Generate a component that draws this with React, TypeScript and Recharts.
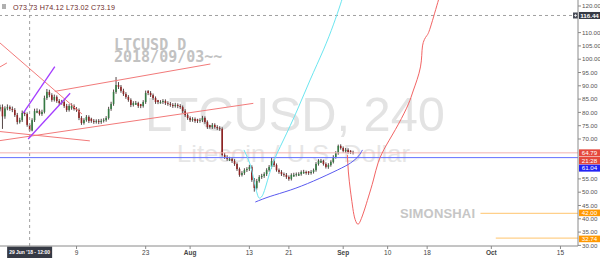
import { ComposedChart, Bar, Line, XAxis, YAxis, ReferenceLine } from "recharts";

// LTCUSD 240 — time axis in days from 1 Aug 2018, candles sampled every 12h
const START = -38.5;
const STEP = 0.5;

const opens = [
  81.2, 82.0, 78.5, 81.5, 82.0, 81.3, 80.9, 79.0, 76.4, 77.1,
  79.8, 79.4, 75.3, 73.2, 77.1, 79.9, 80.5, 79.4, 80.2, 85.4,
  87.7, 86.5, 84.7, 85.8, 84.3, 83.5, 83.9, 82.4, 80.9, 81.6,
  82.4, 81.3, 80.9, 77.9, 76.0, 77.1, 78.3, 77.6, 76.8, 76.4,
  76.8, 76.4, 76.8, 77.1, 77.9, 81.3, 83.2, 87.7, 90.3, 89.6,
  88.1, 86.9, 85.8, 84.7, 82.8, 82.9, 83.5, 83.1, 82.4, 83.9,
  88.0, 87.3, 86.5, 85.4, 84.6, 83.4, 83.9, 84.3, 83.5, 83.2,
  82.8, 82.4, 82.8, 82.4, 82.0, 80.5, 79.0, 77.9, 77.1, 77.5,
  77.4, 76.8, 77.1, 77.9, 76.4, 75.2, 74.5, 75.3, 74.5, 74.1,
  73.8, 64.0, 63.2, 61.9, 62.5, 61.7, 60.6, 58.7, 56.5, 57.2,
  58.3, 58.7, 59.5, 54.6, 51.6, 54.2, 55.7, 56.1, 56.8, 58.3,
  59.5, 61.7, 60.2, 58.3, 57.6, 56.8, 56.5, 55.7, 55.0, 55.9,
  56.5, 56.2, 56.8, 57.1, 57.6, 57.8, 57.2, 57.6, 58.3, 60.6,
  61.1, 61.7, 60.6, 59.5, 60.2, 61.4, 63.2, 64.7, 67.4, 66.6,
  65.5, 65.9, 65.6, 65.1,
];
const highs = [
  82.9, 83.0, 82.3, 83.0, 82.6, 82.2, 81.6, 79.8, 78.0, 80.7,
  80.5, 80.0, 75.9, 77.8, 81.4, 81.5, 81.1, 81.0, 86.3, 88.8,
  88.5, 87.2, 86.7, 86.4, 85.0, 84.7, 84.6, 83.2, 83.1, 83.4,
  83.0, 82.0, 81.5, 78.6, 77.8, 79.0, 78.9, 78.0, 77.5, 77.4,
  77.5, 77.6, 77.8, 78.6, 82.1, 84.0, 88.6, 93.3, 91.4, 90.3,
  88.9, 87.6, 86.5, 85.3, 84.2, 84.3, 84.0, 83.2, 84.6, 88.2,
  88.4, 88.0, 87.1, 86.0, 84.7, 84.6, 85.0, 84.9, 84.2, 83.9,
  83.5, 83.6, 83.4, 83.1, 82.6, 81.2, 79.7, 78.5, 78.2, 78.1,
  77.6, 77.8, 78.7, 78.5, 77.0, 75.3, 76.0, 75.9, 75.2, 74.8,
  74.4, 64.8, 63.9, 63.3, 63.1, 62.4, 61.2, 59.3, 57.9, 59.0,
  59.4, 60.3, 60.1, 55.3, 55.0, 56.4, 56.9, 57.5, 59.0, 60.2,
  63.0, 62.3, 60.8, 58.9, 58.3, 57.4, 57.2, 56.3, 57.1, 57.3,
  57.4, 57.5, 58.2, 58.4, 58.1, 57.9, 58.3, 58.9, 61.3, 62.4,
  62.5, 62.2, 61.2, 60.9, 62.0, 63.9, 65.4, 67.9, 68.0, 67.2,
  66.6, 66.5, 65.8, 65.6,
];
const lows = [
  80.4, 73.8, 77.6, 80.8, 80.6, 80.1, 78.3, 75.5, 75.8, 76.4,
  78.6, 74.6, 72.8, 72.9, 76.4, 79.7, 78.8, 78.7, 79.6, 84.7,
  85.7, 84.0, 84.1, 83.6, 82.8, 82.9, 81.7, 80.2, 80.3, 81.0,
  80.7, 80.2, 77.1, 75.3, 75.4, 76.5, 76.0, 76.1, 75.7, 75.8,
  75.6, 75.7, 76.2, 76.5, 77.3, 80.6, 82.5, 87.0, 88.8, 87.4,
  86.2, 85.1, 84.0, 82.0, 82.2, 82.8, 81.7, 81.6, 81.8, 83.2,
  86.5, 85.8, 84.7, 83.2, 83.1, 83.3, 83.2, 82.8, 82.5, 82.1,
  81.7, 81.8, 81.6, 81.3, 79.8, 78.3, 77.2, 76.4, 76.5, 76.1,
  76.0, 76.1, 76.4, 75.7, 73.8, 73.9, 73.8, 73.9, 73.4, 73.1,
  63.4, 62.5, 61.8, 61.7, 61.0, 59.9, 58.0, 55.8, 55.9, 56.5,
  57.6, 58.0, 53.9, 50.2, 51.0, 53.6, 55.0, 55.4, 56.1, 57.7,
  58.9, 59.5, 57.7, 56.9, 56.1, 55.8, 55.0, 54.3, 54.4, 55.8,
  55.9, 56.1, 56.2, 56.9, 56.6, 56.5, 56.6, 57.0, 57.7, 60.0,
  61.0, 60.0, 58.9, 58.8, 59.6, 60.8, 62.6, 64.1, 66.0, 64.9,
  64.8, 64.5, 64.4, 64.2,
];
const closes = [
  82.0, 78.5, 81.5, 82.0, 81.3, 80.9, 79.0, 76.4, 77.1, 79.8,
  79.4, 75.3, 73.2, 77.1, 80.5, 80.5, 79.4, 80.2, 85.4, 87.7,
  86.5, 84.7, 85.8, 84.3, 83.5, 83.9, 82.4, 80.9, 82.4, 82.4,
  81.3, 80.9, 77.9, 76.0, 77.1, 78.3, 76.8, 76.8, 76.4, 76.8,
  76.4, 76.8, 77.1, 77.9, 81.3, 83.2, 87.7, 90.3, 89.6, 88.1,
  86.9, 85.8, 84.7, 82.8, 83.5, 83.5, 82.4, 82.4, 83.9, 87.3,
  87.3, 86.5, 85.4, 83.9, 83.9, 83.9, 84.3, 83.5, 83.2, 82.8,
  82.4, 82.8, 82.4, 82.0, 80.5, 79.0, 77.9, 77.1, 77.5, 76.8,
  76.8, 77.1, 77.9, 76.4, 74.5, 74.5, 75.3, 74.5, 74.1, 73.8,
  64.0, 63.2, 62.5, 62.5, 61.7, 60.6, 58.7, 56.5, 57.2, 58.3,
  58.7, 59.5, 54.6, 51.6, 54.2, 55.7, 56.1, 56.8, 58.3, 59.5,
  61.7, 60.2, 58.3, 57.6, 56.8, 56.5, 55.7, 55.0, 56.5, 56.5,
  56.8, 56.8, 57.6, 57.6, 57.2, 57.2, 57.6, 58.3, 60.6, 61.7,
  61.7, 60.6, 59.5, 60.2, 61.4, 63.2, 64.7, 67.4, 66.6, 65.5,
  65.9, 65.1, 65.1, 64.8,
];

const xTicks = [-23, -9, 0, 12, 20, 31, 40, 48, 61, 75];
const xTickLabels = ["9", "23", "Aug", "13", "21", "Sep", "10", "18", "Oct", "15"];
// 115, 65 and 60 sit under the price tags
const yTicks = [30, 35, 40, 45, 50, 55, 70, 75, 80, 85, 90, 95, 100, 105, 110, 120];

// drawings: [day, price]
const redTrends = [
  [[-38.5, 106.1], [-21.9, 79.4]],
  [[-38.5, 97.1], [-37.1, 98.6]],
  [[-27.4, 87.9], [4.1, 98.2]],
  [[-38.5, 69.4], [12.8, 83.4]],
  [[-38.5, 72.8], [-20.3, 69.3]],
];
const purpleTrends = [
  [[-33.8, 79.7], [-27.4, 97.2]],
  [[-32.8, 70.0], [-24.3, 87.2]],
];
const blueCurve = [
  [13.2, 46.3], [16.2, 48.4], [20.3, 50.8], [25.0, 54.2],
  [29.8, 58.3], [32.5, 61.0], [34.1, 63.6], [34.9, 65.9],
];
const cyanCurve = [
  [10.9, 65.9], [12.2, 60.2], [13.0, 53.8], [13.6, 49.3], [14.0, 47.8],
  [14.6, 48.6], [15.4, 52.7], [16.8, 61.0], [18.9, 69.6], [21.7, 80.9],
  [24.3, 92.2], [27.0, 103.5], [29.0, 112.9], [30.4, 120.4], [31.0, 124.0],
];
const redCurve = [
  [31.85, 64.0], [32.05, 57.6], [32.45, 50.8], [32.86, 45.2], [33.27, 40.7],
  [33.87, 38.05], [34.48, 39.2], [35.29, 43.3], [36.11, 48.2], [37.12, 54.6],
  [38.13, 61.4], [39.76, 67.75], [42.19, 75.6], [44.22, 83.2], [45.23, 88.4],
  [46.65, 97.1], [47.06, 105.0], [47.87, 108.7], [48.68, 112.1], [50.3, 122.3],
  [50.6, 124.0],
];

const lastPrice = 64.79;
const blueLevel = 63.0;
const crossPrice = 116.44;
const crossTime = -32.5;
const orangeLevels = [
  { v: 42.0, from: 58.8, dy: -0.6 },
  { v: 32.74, from: 61.9, dy: 0.8 },
];

const candles = closes.map((c, i) => ({
  t: START + i * STEP,
  open: opens[i],
  high: highs[i],
  low: lows[i],
  close: c,
}));

const toPts = (arr: number[][]) => arr.map(([t, v]) => ({ t, v }));

const FONT = "'Liberation Sans', Arial, sans-serif";

const Candle = (props: any) => {
  const { x, y, width, height, payload } = props;
  if (!payload || height == null) return null;
  const { open, close, high, low } = payload;
  const ppu = height / (high - low);
  const cx = x + width / 2;
  const top = y + (high - Math.max(open, close)) * ppu;
  const bot = y + (high - Math.min(open, close)) * ppu;
  const up = close >= open;
  return (
    <g>
      <line x1={cx} x2={cx} y1={y} y2={y + height} stroke="#2a1616" strokeWidth={0.8} />
      <rect
        x={cx - 0.8}
        y={top}
        width={1.6}
        height={Math.max(bot - top, 0.8)}
        fill={up ? "#357a43" : "#8f2323"}
      />
    </g>
  );
};

const PriceTag = ({ viewBox, text, bg, dy = 0, sub, h = 7 }: any) => {
  if (!viewBox) return null;
  const x = viewBox.x + viewBox.width + 1;
  const y = viewBox.y + dy;
  return (
    <g>
      <rect x={x} y={y - h / 2} width={21} height={h} fill={bg} />
      <text x={x + 10.5} y={y + 2.2} fontSize={6.2} fill="#fff" textAnchor="middle" fontFamily={FONT}>
        {text}
      </text>
      {sub && (
        <g>
          <rect x={x} y={y + 4} width={21} height={7.5} fill={bg} />
          <text x={x + 10.5} y={y + 10} fontSize={6.2} fill="#fff" textAnchor="middle" fontFamily={FONT}>
            {sub}
          </text>
        </g>
      )}
    </g>
  );
};

const CrossPriceTag = ({ viewBox, text }: any) => {
  if (!viewBox) return null;
  const x = viewBox.x + viewBox.width;
  const y = viewBox.y;
  return (
    <g>
      <rect x={x - 5} y={y - 3} width={5} height={6} fill="#4a4e59" />
      <path d={`M${x - 4} ${y} H${x - 1} M${x - 2.5} ${y - 1.5} V${y + 1.5}`} stroke="#fff" strokeWidth={0.7} />
      <rect x={x + 1} y={y - 3.5} width={21} height={7} fill="#363a45" />
      <text x={x + 11.5} y={y + 2.2} fontSize={6.2} fill="#fff" textAnchor="middle" fontFamily={FONT} fontWeight="bold">
        {text}
      </text>
    </g>
  );
};

const TimeTag = ({ viewBox, text }: any) => {
  if (!viewBox) return null;
  const x = viewBox.x;
  const y = viewBox.y + viewBox.height;
  return (
    <g>
      <rect x={x - 22.5} y={y + 0.5} width={45} height={11.5} fill="#363a45" />
      <text
        x={x - 20.5}
        y={y + 8.3}
        fontSize={5.6}
        fill="#fff"
        fontFamily={FONT}
        fontWeight="bold"
        textLength={41}
        lengthAdjust="spacingAndGlyphs"
      >
        {text}
      </text>
    </g>
  );
};

const XTick = ({ x, y, payload }: any) => {
  const i = xTicks.indexOf(payload.value);
  const label = xTickLabels[i] ?? "";
  const month = isNaN(Number(label));
  return (
    <text
      x={x}
      y={y + 5}
      fontSize={6.5}
      fill="#444"
      textAnchor="middle"
      fontFamily={FONT}
      fontWeight={month ? "bold" : "normal"}
    >
      {label}
    </text>
  );
};

export default function App() {
  return (
    <div
      style={{
        position: "fixed",
        left: 0,
        top: 0,
        width: 600,
        height: 258,
        background: "#ffffff",
        overflow: "hidden",
      }}
    >
      <svg width={600} height={258} style={{ position: "absolute", left: 0, top: 0 }}>
        <text x={145} y={131} fontSize={49} fill="#e3e3e3" fontFamily={FONT} textLength={300} lengthAdjust="spacingAndGlyphs">
          LTCUSD, 240
        </text>
        <text x={177} y={162} fontSize={24} fill="#e6e6e6" fontFamily={FONT} textLength={233} lengthAdjust="spacingAndGlyphs">
          Litecoin / U.S. Dollar
        </text>
        <text x={400} y={217.5} fontSize={13} fill="#c6c6c6" fontWeight="bold" fontFamily={FONT} textLength={75}>
          SIMONSHAI
        </text>
        <rect x={2} y={4} width={4} height={5} fill="#b0b0b0" />
        <text x={13} y={10} fontSize={7.2} fill="#6e2a2a" fontFamily={FONT} textLength={102}>
          O73.73 H74.12 L73.02 C73.19
        </text>
      </svg>
      <div
        style={{
          position: "absolute",
          left: 114,
          top: 38.6,
          whiteSpace: "pre",
          fontFamily: "'DejaVu Sans Mono', monospace",
          fontWeight: "bold",
          fontSize: 15,
          lineHeight: "12.5px",
          color: "#c2c2c2",
        }}
      >
        {"LTCUSD D\n2018/09/03~~"}
      </div>
      <div style={{ position: "absolute", left: 0, top: 0 }}>
        <ComposedChart
          width={600}
          height={258}
          data={candles}
          margin={{ top: 0, right: 0, bottom: 0, left: 0 }}
        >
          <XAxis
            dataKey="t"
            type="number"
            domain={[-38.5, 78.55]}
            allowDataOverflow
            ticks={xTicks}
            interval={0}
            height={12}
            tickSize={3}
            tickMargin={1}
            tick={<XTick />}
            stroke="#8a8a8a"
          />
          <YAxis
            orientation="right"
            type="number"
            domain={[29.77, 122.26]}
            allowDataOverflow
            ticks={yTicks}
            interval={0}
            width={22}
            tickSize={3}
            tickMargin={1}
            tickFormatter={(v: number) => v.toFixed(2)}
            tick={{ fontSize: 6.2, fill: "#555", fontFamily: FONT }}
            stroke="#8a8a8a"
          />
          <ReferenceLine
            y={crossPrice}
            stroke="#a0a0a0"
            strokeDasharray="3 3"
            label={<CrossPriceTag text={crossPrice.toFixed(2)} />}
          />
          <ReferenceLine
            x={crossTime}
            stroke="#a0a0a0"
            strokeDasharray="3 3"
            label={<TimeTag text="29 Jun '18 - 12:00" />}
          />
          <ReferenceLine
            y={lastPrice}
            stroke="#f2b3b0"
            label={<PriceTag text={lastPrice.toFixed(2)} bg="#e5483d" sub="21:28" />}
          />
          <ReferenceLine
            y={blueLevel}
            stroke="#6470ff"
            label={<PriceTag text="61.04" bg="#2323f5" dy={10.5} />}
          />
          {orangeLevels.map((o) => (
            <ReferenceLine
              key={`o-${o.v}`}
              segment={[{ x: o.from, y: o.v }, { x: 78.55, y: o.v }]}
              stroke="#ffd08a"
              strokeWidth={1.2}
              ifOverflow="hidden"
            />
          ))}
          {orangeLevels.map((o) => (
            <ReferenceLine
              key={`ot-${o.v}`}
              y={o.v}
              stroke="none"
              label={<PriceTag text={o.v.toFixed(2)} bg="#ff9800" dy={o.dy} h={6.6} />}
            />
          ))}
          {redTrends.map((s, i) => (
            <ReferenceLine
              key={`r-${i}`}
              segment={[{ x: s[0][0], y: s[0][1] }, { x: s[1][0], y: s[1][1] }]}
              stroke="#f27a7a"
              strokeWidth={1}
              ifOverflow="hidden"
            />
          ))}
          {purpleTrends.map((s, i) => (
            <ReferenceLine
              key={`p-${i}`}
              segment={[{ x: s[0][0], y: s[0][1] }, { x: s[1][0], y: s[1][1] }]}
              stroke="#a43dff"
              strokeWidth={1.3}
              ifOverflow="hidden"
            />
          ))}
          <Line
            data={toPts(cyanCurve)}
            dataKey="v"
            type="natural"
            stroke="#6be6f0"
            strokeWidth={1}
            dot={false}
            activeDot={false}
            isAnimationActive={false}
          />
          <Line
            data={toPts(redCurve)}
            dataKey="v"
            type="natural"
            stroke="#f26464"
            strokeWidth={1}
            dot={false}
            activeDot={false}
            isAnimationActive={false}
          />
          <Line
            data={toPts(blueCurve)}
            dataKey="v"
            type="natural"
            stroke="#5a5af0"
            strokeWidth={1}
            dot={false}
            activeDot={false}
            isAnimationActive={false}
          />
          <Bar
            dataKey={(d: any) => [d.low, d.high]}
            barSize={2}
            shape={<Candle />}
            isAnimationActive={false}
          />
        </ComposedChart>
      </div>
    </div>
  );
}
